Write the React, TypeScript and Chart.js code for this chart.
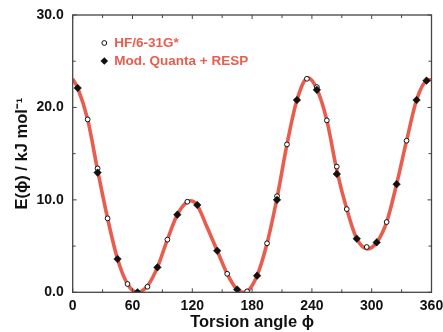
import React, { useEffect, useRef } from "react";
import { Chart, registerables } from "chart.js";

Chart.register(...registerables);

// Smooth fitted curve
const curveAngles = [0, 5, 15, 25, 35, 45, 55, 65, 75, 85, 95, 105, 115, 118, 125, 135, 145, 155, 165, 171, 175, 185, 195, 205, 215, 225, 236, 245, 255, 265, 275, 285, 296, 305, 315, 325, 335, 345, 355, 360];
const curveEnergy = [23.1, 22.1, 18.7, 13.2, 8.0, 3.6, 0.9, 0.0, 0.7, 2.7, 5.7, 8.4, 9.8, 9.9, 9.4, 7.0, 4.5, 2.0, 0.3, 0.0, 0.1, 1.8, 5.3, 10.2, 16.0, 20.8, 23.2, 22.0, 18.6, 13.2, 9.0, 5.8, 4.7, 5.4, 7.6, 11.7, 16.4, 20.8, 22.9, 23.0];

// HF/6-31G* (open circles)
const hfAngles = [15, 25, 35, 55, 75, 95, 115, 155, 175, 195, 205, 215, 235, 245, 255, 265, 275, 295, 315, 335];
const hfEnergy = [18.7, 13.4, 8.0, 0.9, 0.6, 5.7, 9.8, 2.0, 0.1, 5.3, 10.4, 16.0, 23.1, 22.2, 18.6, 13.6, 9.0, 4.9, 7.6, 16.4];

// Mod. Quanta + RESP (filled diamonds)
const mqAngles = [5, 25, 45, 65, 85, 105, 125, 145, 165, 185, 205, 225, 245, 265, 285, 305, 325, 345, 355];
const mqEnergy = [22.1, 12.95, 3.6, 0.0, 2.7, 8.4, 9.45, 4.5, 0.3, 1.8, 10.0, 20.8, 21.9, 12.8, 5.8, 5.4, 11.7, 20.8, 22.9];

const xTicks = [0, 60, 120, 180, 240, 300, 360];
const yTicks = [0, 10, 20, 30];
const legendLabels = ["HF/6-31G*", "Mod. Quanta + RESP"];

const FONT = "'Liberation Sans', Arial, Helvetica, sans-serif";
const RED = "#e95d4e";

const framePlugin = {
  id: "frame",
  afterDatasetsDraw(chart: any) {
    const { ctx, chartArea: a, scales } = chart;
    ctx.save();
    ctx.strokeStyle = "#444";
    ctx.lineWidth = 1.3;
    ctx.strokeRect(a.left, a.top, a.right - a.left, a.bottom - a.top);
    // inward ticks
    ctx.lineWidth = 1;
    for (let v = 0; v <= 30; v += 5) {
      const y = scales.y.getPixelForValue(v);
      const len = v % 10 === 0 ? 4 : 3;
      ctx.beginPath();
      ctx.moveTo(a.left, y);
      ctx.lineTo(a.left + len, y);
      ctx.moveTo(a.right, y);
      ctx.lineTo(a.right - len, y);
      ctx.stroke();
    }
    for (let v = 0; v <= 360; v += 30) {
      const x = scales.x.getPixelForValue(v);
      const len = v % 60 === 0 ? 4 : 3;
      ctx.beginPath();
      ctx.moveTo(x, a.bottom);
      ctx.lineTo(x, a.bottom - len);
      ctx.moveTo(x, a.top);
      ctx.lineTo(x, a.top + len);
      ctx.stroke();
    }
    // legend
    const lx = a.left + 31.6;
    const ly1 = a.top + 28;
    const ly2 = a.top + 46;
    ctx.beginPath();
    ctx.arc(lx, ly1, 2.4, 0, Math.PI * 2);
    ctx.fillStyle = "#fff";
    ctx.fill();
    ctx.strokeStyle = "#111";
    ctx.lineWidth = 1;
    ctx.stroke();
    ctx.beginPath();
    const d = 3.8;
    ctx.moveTo(lx, ly2 - d);
    ctx.lineTo(lx + d, ly2);
    ctx.lineTo(lx, ly2 + d);
    ctx.lineTo(lx - d, ly2);
    ctx.closePath();
    ctx.fillStyle = "#111";
    ctx.fill();
    ctx.fillStyle = RED;
    ctx.font = `bold 13.5px ${FONT}`;
    ctx.textBaseline = "middle";
    ctx.textAlign = "left";
    ctx.fillText(legendLabels[0], lx + 10, ly1);
    ctx.fillText(legendLabels[1], lx + 10, ly2);
    ctx.restore();
  },
};

export default function App() {
  const ref = useRef<HTMLCanvasElement>(null);
  useEffect(() => {
    document.body.style.margin = "0";
    const chart = new Chart(ref.current!, {
      type: "line",
      data: {
        datasets: [
          {
            label: legendLabels[1],
            data: mqAngles.map((x, i) => ({ x, y: mqEnergy[i] })),
            showLine: false,
            pointStyle: "rectRot",
            pointRadius: 3.8,
            pointBackgroundColor: "#111",
            pointBorderColor: "#111",
            pointBorderWidth: 0.5,
            order: 0,
          },
          {
            label: legendLabels[0],
            data: hfAngles.map((x, i) => ({ x, y: hfEnergy[i] })),
            showLine: false,
            pointStyle: "circle",
            pointRadius: 2.4,
            pointBackgroundColor: "#fff",
            pointBorderColor: "#111",
            pointBorderWidth: 1,
            order: 1,
          },
          {
            label: "fit",
            data: curveAngles.map((x, i) => ({ x, y: curveEnergy[i] })),
            borderColor: RED,
            borderWidth: 3.6,
            pointRadius: 0,
            cubicInterpolationMode: "monotone",
            fill: false,
            order: 5,
          },
        ],
      },
      options: {
        animation: false,
        responsive: false,
        layout: { padding: { left: 13, top: 15, right: 11.5, bottom: 0 } },
        plugins: { legend: { display: false }, tooltip: { enabled: false } },
        scales: {
          x: {
            type: "linear",
            min: 0,
            max: 360,
            afterBuildTicks: (s: any) => {
              s.ticks = xTicks.map((v) => ({ value: v }));
            },
            afterFit: (s: any) => {
              s.height = 39.7;
              s.paddingLeft = 0;
              s.paddingRight = 0;
            },
            grid: { display: false, drawTicks: false },
            border: { display: false },
            ticks: {
              color: "#111",
              padding: 5,
              font: { family: FONT, size: 14, weight: "bold" },
              callback: (v: any) => String(v),
            },
            title: {
              display: true,
              text: "Torsion angle ϕ",
              color: "#111",
              padding: { top: 0, bottom: 0 },
              font: { family: FONT, size: 16.5, weight: "bold" },
            },
          },
          y: {
            type: "linear",
            min: 0,
            max: 30,
            afterBuildTicks: (s: any) => {
              s.ticks = yTicks.map((v) => ({ value: v }));
            },
            afterFit: (s: any) => {
              s.width = 72.7 - 13;
              s.paddingTop = 0;
              s.paddingBottom = 0;
            },
            grid: { display: false, drawTicks: false },
            border: { display: false },
            ticks: {
              color: "#111",
              padding: 9,
              font: { family: FONT, size: 14, weight: "bold" },
              callback: (v: any) => Number(v).toFixed(1),
            },
            title: {
              display: true,
              text: "E(ϕ) / kJ mol⁻¹",
              color: "#111",
              padding: { top: 0, bottom: 0 },
              font: { family: FONT, size: 16.5, weight: "bold" },
            },
          },
        },
      },
      plugins: [framePlugin],
    } as any);
    return () => chart.destroy();
  }, []);
  return (
    <div style={{ width: 443, height: 332, background: "#fff" }}>
      <canvas ref={ref} width={443} height={332} />
    </div>
  );
}
